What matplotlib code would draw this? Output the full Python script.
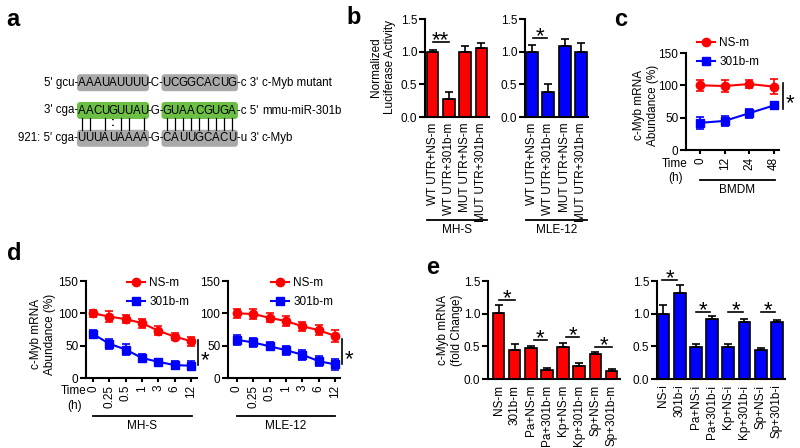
import matplotlib
matplotlib.use('Agg')
import matplotlib.pyplot as plt
import matplotlib.transforms as mtrans
from matplotlib.patches import FancyBboxPatch
from matplotlib.lines import Line2D
import numpy as np

plt.rcParams['font.family'] = ['Liberation Sans', 'DejaVu Sans']

# ---------------- data ----------------
# panel a (sequences)
a_prefix = ["5' gcu-", "3' cga-", "921: 5' cga-"]
a_seg1 = ['AAAUAUUUU', 'AACUGUUAU', 'UUUAUAAAA']
a_mid = ['-C-', '-G-', '-G-']
a_seg2 = ['UCGGCACUG', 'GUAACGUGA', 'CAUUGCACU']
a_suffix = ["-c 3'", "-c 5'", "-u 3'"]
a_names = ['c-Myb mutant', 'mmu-miR-301b', 'c-Myb']
a_pair1 = '|| |:|| |'
a_pair2 = '|||||||||'

# panel b
b_labels = ['WT UTR+NS-m', 'WT UTR+301b-m', 'MUT UTR+NS-m', 'MUT UTR+301b-m']
b_mhs = [1.00, 0.28, 1.00, 1.06]
b_mhs_err = [0.02, 0.10, 0.08, 0.08]
b_mle = [1.00, 0.39, 1.09, 0.99]
b_mle_err = [0.10, 0.12, 0.11, 0.15]

# panel c
c_time = ['0', '12', '24', '48']
c_ns = [100, 99, 102, 98]
c_ns_err = [9, 10, 6, 12]
c_301 = [42, 45, 57, 69]
c_301_err = [9, 8, 7, 5]

# panel d
d_time = ['0', '0.25', '0.5', '1', '3', '6', '12']
d_mhs_ns = [100, 95, 91, 85, 73, 64, 57]
d_mhs_ns_err = [5, 8, 6, 7, 7, 6, 7]
d_mhs_301 = [68, 53, 44, 31, 25, 20, 19]
d_mhs_301_err = [6, 8, 8, 6, 5, 6, 7]
d_mle_ns = [100, 99, 93, 88, 80, 74, 65]
d_mle_ns_err = [7, 8, 7, 8, 7, 8, 9]
d_mle_301 = [59, 55, 49, 43, 36, 26, 21]
d_mle_301_err = [8, 7, 6, 7, 8, 8, 9]

# panel e
e_m_labels = ['NS-m', '301b-m', 'Pa+NS-m', 'Pa+301b-m', 'Kp+NS-m', 'Kp+301b-m', 'Sp+NS-m', 'Sp+301b-m']
e_m = [1.01, 0.44, 0.48, 0.14, 0.49, 0.20, 0.39, 0.13]
e_m_err = [0.12, 0.10, 0.03, 0.03, 0.06, 0.04, 0.03, 0.02]
e_i_labels = ['NS-i', '301b-i', 'Pa+NS-i', 'Pa+301b-i', 'Kp+NS-i', 'Kp+301b-i', 'Sp+NS-i', 'Sp+301b-i']
e_i = [1.00, 1.31, 0.49, 0.92, 0.485, 0.87, 0.44, 0.87]
e_i_err = [0.13, 0.13, 0.05, 0.04, 0.055, 0.05, 0.03, 0.03]

RED = '#FF0000'
BLUE = '#0000FF'
FS = 8.5

W, H = 800, 448
fig = plt.figure(figsize=(8, 4.48), dpi=100)

# overlay axes in pixel coordinates for annotations
ov = fig.add_axes([0, 0, 1, 1], zorder=5)
ov.set_xlim(0, W)
ov.set_ylim(H, 0)
ov.axis('off')


def new_axes(x0, x1, ytop, ybot):
    return fig.add_axes([x0 / W, 1 - ybot / H, (x1 - x0) / W, (ybot - ytop) / H])


def style(ax):
    for s in ['top', 'right']:
        ax.spines[s].set_visible(False)
    for s in ['left', 'bottom']:
        ax.spines[s].set_linewidth(1.5)
    ax.tick_params(width=1.5, length=4, labelsize=FS, pad=1.5, color='k')


def txt(x, y, s, **kw):
    kw.setdefault('fontsize', FS)
    kw.setdefault('ha', 'center')
    kw.setdefault('va', 'center')
    ov.text(x, y, s, clip_on=False, **kw)


def bar_panel(ax, labels, vals, errs, color):
    x = np.arange(len(vals))
    ax.bar(x, vals, width=0.72, color=color, edgecolor='k', linewidth=1.2, zorder=2)
    ax.errorbar(x, vals, yerr=[np.zeros(len(errs)), errs], fmt='none', ecolor='k',
                elinewidth=1.2, capsize=3, capthick=1.2, zorder=3)
    ax.set_xticks(x)
    ax.set_xticklabels(labels, rotation=90)
    ax.set_ylim(0, 1.5)
    ax.set_yticks([0, 0.5, 1.0, 1.5])
    ax.set_yticklabels(['0.0', '0.5', '1.0', '1.5'])
    style(ax)
    ax.tick_params(axis='x', length=0, pad=4)


def sig_h(ax, x0, x1, y, star='*'):
    ax.plot([x0, x1], [y, y], color='k', lw=1.2, clip_on=False, zorder=4)
    ax.annotate(star, xy=((x0 + x1) / 2, y), xytext=(0, -3), textcoords='offset points',
                ha='center', va='baseline', fontsize=16, annotation_clip=False)


def sig_v(ax, x, y0, y1):
    ax.plot([x, x], [y0, y1], color='k', lw=1.2, clip_on=False, zorder=4)
    ax.annotate('*', xy=(x, (y0 + y1) / 2), xytext=(5, -9.5), textcoords='offset points',
                ha='center', va='baseline', fontsize=16, annotation_clip=False)


def line_panel(ax, labels, ns, ns_err, m, m_err):
    x = np.arange(len(labels))
    ax.errorbar(x, ns, yerr=ns_err, color=RED, marker='o', ms=6, lw=1.5,
                capsize=3, elinewidth=1.2, capthick=1.2, clip_on=False, zorder=3)
    ax.errorbar(x, m, yerr=m_err, color=BLUE, marker='s', ms=6, lw=1.5,
                capsize=3, elinewidth=1.2, capthick=1.2, clip_on=False, zorder=3)
    ax.set_xticks(x)
    ax.set_xticklabels(labels, rotation=90)
    ax.set_ylim(0, 150)
    ax.set_yticks([0, 50, 100, 150])
    style(ax)
    ax.tick_params(axis='x', length=3, pad=2)


def legend(ax, x, y):
    h = [Line2D([], [], color=RED, marker='o', ms=6, lw=1.5),
         Line2D([], [], color=BLUE, marker='s', ms=6, lw=1.5)]
    ax.legend(h, ['NS-m', '301b-m'], loc='upper left', frameon=False,
              bbox_to_anchor=(x / W, 1 - y / H), bbox_transform=fig.transFigure,
              fontsize=FS, handlelength=1.5, handletextpad=0.4, labelspacing=0.6,
              borderpad=0, borderaxespad=0)


def underline(ax, x0, x1, y, label):
    tr = mtrans.blended_transform_factory(ax.transData, fig.transFigure)
    ax.plot([x0, x1], [1 - y / H, 1 - y / H], color='k', lw=1.3, transform=tr, clip_on=False)
    ax.text((x0 + x1) / 2, 1 - (y + 10) / H, label, transform=tr, ha='center', va='center',
            fontsize=FS)


# ---------------- panel a ----------------
row_y = [82.7, 110.5, 138.3]
box1 = (77, 149)
box2 = (161.5, 238)
for r in range(3):
    col = '#6CBE45' if r == 1 else '#A9A9A9'
    for (bx0, bx1) in (box1, box2):
        ov.add_patch(FancyBboxPatch((bx0, row_y[r] - 8.5), bx1 - bx0, 17,
                                    boxstyle='round,pad=0,rounding_size=3.5',
                                    fc=col, ec='none', zorder=1))
    txt(box1[0] + 1, row_y[r], a_prefix[r], ha='right', fontsize=8.3)
    for i, ch in enumerate(a_seg1[r]):
        txt(81.7 + 7.8 * i, row_y[r], ch, fontsize=8.3)
    txt((box1[1] + box2[0]) / 2, row_y[r], a_mid[r], fontsize=8.3)
    for i, ch in enumerate(a_seg2[r]):
        txt(166.5 + 8.2 * i, row_y[r], ch, fontsize=8.3)
    txt(box2[1] - 1, row_y[r], a_suffix[r], ha='left', fontsize=8.3)
    txt(262, row_y[r], a_names[r], ha='left', fontsize=8.3)

for i, ch in enumerate(a_pair1):
    xc = 81.7 + 7.8 * i
    if ch == '|':
        ov.plot([xc, xc], [118.5, 130], color='k', lw=0.9)
    elif ch == ':':
        txt(xc, 123.5, ':', fontsize=8.3, fontweight='bold')
for i, ch in enumerate(a_pair2):
    xc = 166.5 + 8.2 * i
    if ch == '|':
        ov.plot([xc, xc], [118.5, 130], color='k', lw=0.9)

# ---------------- panel b ----------------
axb1 = new_axes(425, 489, 19, 117)
bar_panel(axb1, b_labels, b_mhs, b_mhs_err, RED)
axb1.set_xlim(-0.46, 3.46)
sig_h(axb1, 0.0, 1.0, 1.15, '**')
underline(axb1, -0.36, 3.36, 220, 'MH-S')

axb2 = new_axes(525, 588, 19, 117)
bar_panel(axb2, b_labels, b_mle, b_mle_err, BLUE)
axb2.set_xlim(-0.43, 3.43)
sig_h(axb2, 0.05, 0.92, 1.21, '*')
underline(axb2, -0.36, 3.36, 220, 'MLE-12')

txt(383, 67, 'Normalized\nLuciferase Activity', rotation=90, fontsize=FS)

# ---------------- panel c ----------------
axc = new_axes(686, 779, 53, 150)
line_panel(axc, c_time, c_ns, c_ns_err, c_301, c_301_err)
axc.set_xlim(-0.57, 3.2)
sig_v(axc, 3.36, 63.4, 103.6)
underline(axc, 0.0, 3.03, 180, 'BMDM')
legend(axc, 697, 37)
txt(688, 164, 'Time', ha='right')
txt(676, 178, '(h)')
txt(646, 105, 'c-Myb mRNA\nAbundance (%)', rotation=90)

# ---------------- panel d ----------------
axd1 = new_axes(86, 197, 281, 378)
line_panel(axd1, d_time, d_mhs_ns, d_mhs_ns_err, d_mhs_301, d_mhs_301_err)
axd1.set_xlim(-0.43, 6.37)
sig_v(axd1, 6.43, 20, 58.8)
underline(axd1, 0.0, 6.06, 416, 'MH-S')
legend(axd1, 127, 277)
txt(87, 391, 'Time', ha='right')
txt(75, 406, '(h)')
txt(43, 334, 'c-Myb mRNA\nAbundance (%)', rotation=90)

axd2 = new_axes(228, 340, 281, 378)
line_panel(axd2, d_time, d_mle_ns, d_mle_ns_err, d_mle_301, d_mle_301_err)
axd2.set_xlim(-0.55, 6.3)
sig_v(axd2, 6.43, 21.6, 60.3)
underline(axd2, 0.0, 6.0, 416, 'MLE-12')
legend(axd2, 271, 277)

# ---------------- panel e ----------------
axe1 = new_axes(488, 620, 281, 379)
bar_panel(axe1, e_m_labels, e_m, e_m_err, RED)
axe1.set_xlim(-0.65, 7.52)
sig_h(axe1, 0.0, 1.0, 1.21)
sig_h(axe1, 2.2, 3.0, 0.60)
sig_h(axe1, 4.2, 5.0, 0.64)
sig_h(axe1, 6.0, 7.0, 0.49)
txt(450, 330, 'c-Myb mRNA\n(fold Change)', rotation=90)

axe2 = new_axes(657, 785, 281, 379)
bar_panel(axe2, e_i_labels, e_i, e_i_err, BLUE)
axe2.set_xlim(-0.4, 7.5)
sig_h(axe2, -0.1, 0.85, 1.52)
sig_h(axe2, 2.0, 2.9, 1.03)
sig_h(axe2, 4.0, 4.9, 1.03)
sig_h(axe2, 6.0, 6.9, 1.03)

# panel letters
for (lx, ly, s) in [(13, 19, 'a'), (354, 18, 'b'), (621, 19, 'c'), (14, 253, 'd'), (433, 267, 'e')]:
    txt(lx, ly, s, fontsize=17, fontweight='bold')

fig.savefig('out.png', dpi=100)
